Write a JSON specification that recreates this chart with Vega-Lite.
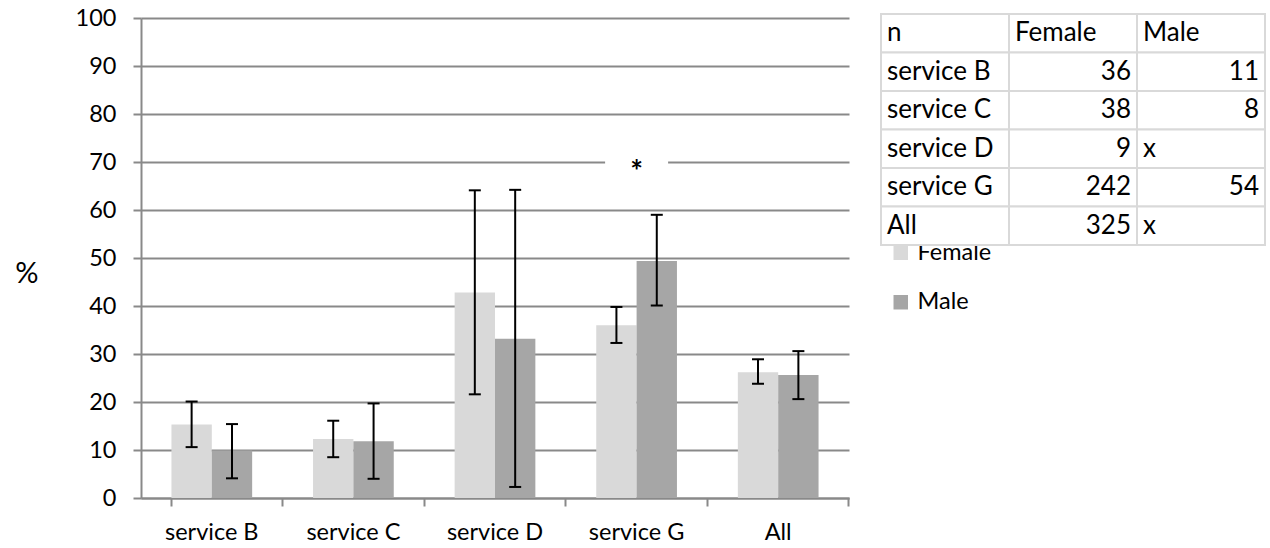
{
  "$schema": "https://vega.github.io/schema/vega-lite/v6.json",
  "background": "white",
  "padding": {"left": 14, "top": 6, "right": 0, "bottom": 0},
  "config": {"font": "Lato", "view": {"stroke": null}},
  "bounds": "flush",
  "spacing": 32,
  "resolve": {"scale": {"color": "independent"}},
  "datasets": {
    "bars": [
      {"cat": "service B", "sex": "Female", "pct": 15.3, "lo": 10.6, "hi": 20.1},
      {"cat": "service B", "sex": "Male", "pct": 9.9, "lo": 4.1, "hi": 15.4},
      {"cat": "service C", "sex": "Female", "pct": 12.3, "lo": 8.5, "hi": 16.1},
      {"cat": "service C", "sex": "Male", "pct": 11.8, "lo": 4.0, "hi": 19.7},
      {"cat": "service D", "sex": "Female", "pct": 42.8, "lo": 21.6, "hi": 64.1},
      {"cat": "service D", "sex": "Male", "pct": 33.2, "lo": 2.3, "hi": 64.2},
      {"cat": "service G", "sex": "Female", "pct": 36.0, "lo": 32.3, "hi": 39.8},
      {"cat": "service G", "sex": "Male", "pct": 49.4, "lo": 40.1, "hi": 59.0},
      {"cat": "All", "sex": "Female", "pct": 26.2, "lo": 23.8, "hi": 28.9},
      {"cat": "All", "sex": "Male", "pct": 25.6, "lo": 20.6, "hi": 30.6}
    ],
    "sig": [{"cat": "service G", "label": "*", "v": 70}],
    "cells": [
      {"r": "n", "c": "label", "t": "n"},
      {"r": "n", "c": "Female", "t": "Female"},
      {"r": "n", "c": "Male", "t": "Male"},
      {"r": "service B", "c": "label", "t": "service B"},
      {"r": "service B", "c": "Female", "t": "36"},
      {"r": "service B", "c": "Male", "t": "11"},
      {"r": "service C", "c": "label", "t": "service C"},
      {"r": "service C", "c": "Female", "t": "38"},
      {"r": "service C", "c": "Male", "t": "8"},
      {"r": "service D", "c": "label", "t": "service D"},
      {"r": "service D", "c": "Female", "t": "9"},
      {"r": "service D", "c": "Male", "t": "x"},
      {"r": "service G", "c": "label", "t": "service G"},
      {"r": "service G", "c": "Female", "t": "242"},
      {"r": "service G", "c": "Male", "t": "54"},
      {"r": "All", "c": "label", "t": "All"},
      {"r": "All", "c": "Female", "t": "325"},
      {"r": "All", "c": "Male", "t": "x"}
    ]
  },
  "hconcat": [
    {
      "width": 708,
      "height": 480,
      "data": {"name": "bars"},
      "encoding": {
        "x": {
          "field": "cat", "type": "nominal",
          "sort": ["service B", "service C", "service D", "service G", "All"],
          "title": null,
          "scale": {"paddingInner": 0.43, "paddingOuter": 0.215},
          "axis": {
            "labelAngle": 0, "labelFontSize": 23.5, "labelColor": "#000000", "labelPadding": 14,
            "tickSize": 8, "bandPosition": 1.377, "tickExtra": true,
            "domainColor": "#898989", "domainWidth": 2, "tickColor": "#898989", "tickWidth": 2,
            "grid": false
          }
        }
      },
      "layer": [
        {
          "mark": {"type": "bar"},
          "encoding": {
            "xOffset": {"field": "sex", "type": "nominal", "sort": ["Female", "Male"], "scale": {"paddingInner": 0, "paddingOuter": 0}},
            "y": {
              "field": "pct", "type": "quantitative", "title": "%",
              "scale": {"domain": [0, 100]},
              "axis": {
                "values": [0, 10, 20, 30, 40, 50, 60, 70, 80, 90, 100],
                "titleAngle": 0, "titleX": -114.7, "titleY": 264, "titleAlign": "center",
                "titleBaseline": "alphabetic", "titleFontSize": 29, "titleFontWeight": "normal", "titleColor": "#000000",
                "labelFontSize": 23.5, "labelColor": "#000000", "labelPadding": 17,
                "tickSize": 8, "tickColor": "#898989", "tickWidth": 2,
                "domainColor": "#898989", "domainWidth": 2,
                "grid": true, "gridColor": "#898989", "gridWidth": 2
              }
            },
            "color": {
              "field": "sex", "type": "nominal",
              "scale": {"domain": ["Female", "Male"], "range": ["#d9d9d9", "#a6a6a6"]},
              "legend": {
                "orient": "none", "legendX": 748, "legendY": 223, "title": null,
                "labelFontSize": 23.5, "labelColor": "#000000", "symbolType": "square",
                "symbolSize": 210, "rowPadding": 24.5, "labelOffset": 5, "padding": 0,
                "symbolStrokeWidth": 0, "symbolOpacity": 1
              }
            }
          }
        },
        {
          "data": {"name": "sig"},
          "mark": {"type": "point", "shape": "M-1,-0.25L1,-0.25L1,0.25L-1,0.25Z", "filled": true, "fill": "white", "opacity": 1, "size": 3969, "strokeWidth": 0},
          "encoding": {
            "x": {"field": "cat", "type": "nominal"},
            "y": {"field": "v", "type": "quantitative", "title": "%"}
          }
        },
        {
          "data": {"name": "sig"},
          "mark": {"type": "text", "fontSize": 30, "dy": 11, "color": "#000000", "fontWeight": "bold"},
          "encoding": {
            "x": {"field": "cat", "type": "nominal"},
            "y": {"field": "v", "type": "quantitative", "title": "%"},
            "text": {"field": "label"}
          }
        },
        {
          "mark": {"type": "rule", "color": "#000000", "strokeWidth": 2},
          "encoding": {
            "xOffset": {"field": "sex", "type": "nominal", "sort": ["Female", "Male"]},
            "y": {"field": "lo", "type": "quantitative", "title": "%"},
            "y2": {"field": "hi"}
          }
        },
        {
          "mark": {"type": "tick", "color": "#000000", "size": 12, "thickness": 2, "opacity": 1},
          "encoding": {
            "xOffset": {"field": "sex", "type": "nominal", "sort": ["Female", "Male"]},
            "y": {"field": "lo", "type": "quantitative", "title": "%"}
          }
        },
        {
          "mark": {"type": "tick", "color": "#000000", "size": 12, "thickness": 2, "opacity": 1},
          "encoding": {
            "xOffset": {"field": "sex", "type": "nominal", "sort": ["Female", "Male"]},
            "y": {"field": "hi", "type": "quantitative", "title": "%"}
          }
        }
      ]
    },
    {
      "width": 384,
      "height": 231,
      "data": {"name": "cells"},
      "encoding": {
        "x": {"field": "c", "type": "nominal", "sort": ["label", "Female", "Male"], "scale": {"paddingInner": 0, "paddingOuter": 0}, "axis": null},
        "y": {"field": "r", "type": "nominal", "sort": ["n", "service B", "service C", "service D", "service G", "All"], "scale": {"paddingInner": 0, "paddingOuter": 0}, "axis": null}
      },
      "layer": [
        {"mark": {"type": "rect", "fill": "white", "stroke": "#d9d9d9", "strokeWidth": 2, "yOffset": -4}},
        {
          "transform": [{"filter": "!isValid(toNumber(datum.t))"}],
          "mark": {"type": "text", "align": "left", "baseline": "middle", "dx": 6, "fontSize": 26, "yOffset": -4, "color": "#000000"},
          "encoding": {
            "x": {"field": "c", "type": "nominal", "sort": ["label", "Female", "Male"], "bandPosition": 0},
            "text": {"field": "t"}
          }
        },
        {
          "transform": [{"filter": "isValid(toNumber(datum.t))"}],
          "mark": {"type": "text", "align": "right", "baseline": "middle", "dx": -6, "fontSize": 26, "yOffset": -4, "color": "#000000"},
          "encoding": {
            "x": {"field": "c", "type": "nominal", "sort": ["label", "Female", "Male"], "bandPosition": 1},
            "text": {"field": "t"}
          }
        }
      ]
    }
  ]
}
